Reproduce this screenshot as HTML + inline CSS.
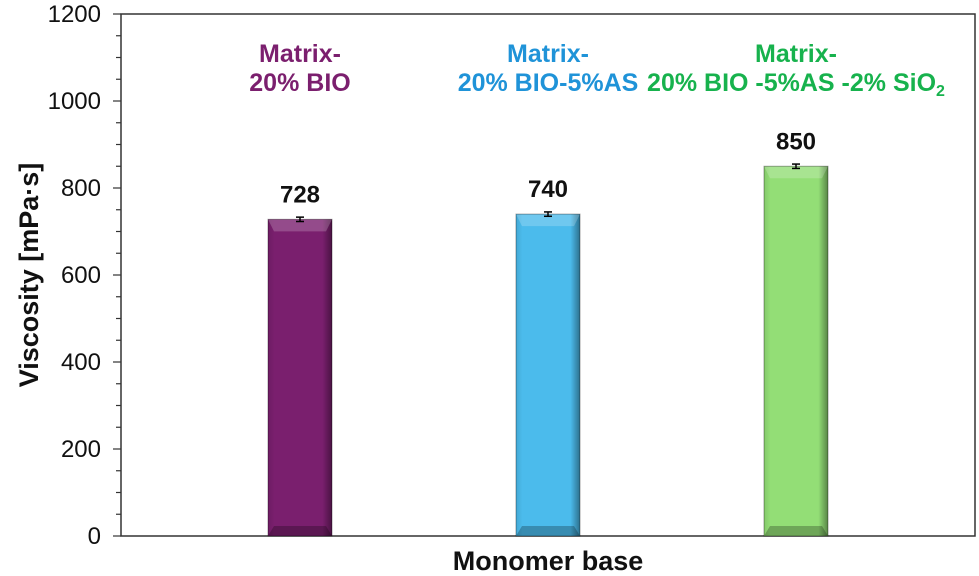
<!DOCTYPE html>
<html><head><meta charset="utf-8"><style>
body{margin:0;background:#fff;}
svg{display:block;font-family:"Liberation Sans",Arial,sans-serif;}
</style></head><body>
<svg id="c" width="979" height="576">
<defs>
<linearGradient id="shadeH" x1="0" x2="1" y1="0" y2="0">
<stop offset="0" stop-color="#000" stop-opacity="0.1"/><stop offset="0.1" stop-color="#000" stop-opacity="0"/>
<stop offset="0.85" stop-color="#000" stop-opacity="0"/><stop offset="1" stop-color="#000" stop-opacity="0.4"/>
</linearGradient>
</defs>
<g id="plot"></g>
</svg>
<script>
const categories = ["Matrix-20% BIO", "Matrix-20% BIO-5%AS", "Matrix-20% BIO-5%AS-2% SiO2"];
const values = [728, 740, 850];
const errors = [5, 5, 5];
const yTicks = [0, 200, 400, 600, 800, 1000, 1200];
const barColors = ["#7a1f6e", "#4bbbec", "#93de76"];
const textColors = ["#7b1f6e", "#1f93d8", "#17b24d"];

const NS = "http://www.w3.org/2000/svg";
const g = document.getElementById("plot");
const X0 = 121, X1 = 975, Y0 = 536, Y1 = 14;
const y = v => Y0 - (v / 1200) * (Y0 - Y1);
const x = i => 300 + i * 248;
const BW = 64;
function el(tag, attrs, parent) {
  const e = document.createElementNS(NS, tag);
  for (const k in attrs) e.setAttribute(k, attrs[k]);
  (parent || g).appendChild(e);
  return e;
}
const frame = el("rect", {x: X0, y: Y1, width: X1 - X0, height: Y0 - Y1, fill: "none", stroke: "#333", "stroke-width": 1.5});


for (let v = 0; v <= 1200; v += 50) {
  const t = el("line", {x1: X0 - (v % 200 === 0 ? 8 : 5), x2: X0, y1: y(v), y2: y(v), stroke: "#333", "stroke-width": 1.2});
  
  
}
yTicks.forEach(v => {
  const t = el("text", {x: 101, y: y(v) + 8, "text-anchor": "end", "font-size": 24, fill: "#111"});
  t.textContent = v;
  
  
});
values.forEach((v, i) => {
  const cx = x(i), top = y(v), h = Y0 - top, L = cx - BW / 2;
  const bg = el("g", {});
  
  
  el("rect", {x: L, y: top, width: BW, height: h, fill: barColors[i]}, bg);
  el("rect", {x: L, y: top, width: BW, height: h, fill: "url(#shadeH)"}, bg);
  el("polygon", {points: `${L},${top} ${L+BW},${top} ${L+BW-6},${top+12} ${L+6},${top+12}`, fill: "#fff", "fill-opacity": 0.2}, bg);
  el("polygon", {points: `${L},${Y0} ${L+BW},${Y0} ${L+BW-6},${Y0-10} ${L+6},${Y0-10}`, fill: "#000", "fill-opacity": 0.25}, bg);
  el("rect", {x: L, y: top, width: BW, height: h, fill: "none", stroke: "#000", "stroke-opacity": 0.35, "stroke-width": 1}, bg);
  const eb = el("g", {stroke: "#000", "stroke-width": 1.5});
  
  
  el("line", {x1: cx, x2: cx, y1: y(v + errors[i]), y2: y(v - errors[i])}, eb);
  el("line", {x1: cx - 4, x2: cx + 4, y1: y(v + errors[i]), y2: y(v + errors[i])}, eb);
  el("line", {x1: cx - 4, x2: cx + 4, y1: y(v - errors[i]), y2: y(v - errors[i])}, eb);
  const vl = el("text", {x: cx, y: top - 17, "text-anchor": "middle", "font-size": 24, "font-weight": "bold", fill: "#111"});
  vl.textContent = v;
  
  
  const cl = el("text", {"text-anchor": "middle", "font-size": 25, "font-weight": "bold", fill: textColors[i]});
  
  
  const t1 = el("tspan", {x: cx, y: 62}, cl); t1.textContent = "Matrix-";
  const rest = categories[i].replace("Matrix-", "");
  const t2 = el("tspan", {x: cx, y: 91}, cl);
  if (i === 2) {
    t2.textContent = "20% BIO -5%AS -2% SiO";
    const s = el("tspan", {"font-size": 16, dy: 5}, cl); s.textContent = "2";
  } else t2.textContent = rest;
});
const yt = el("text", {transform: "translate(38,275) rotate(-90)", "text-anchor": "middle", "font-size": 27, "font-weight": "bold", fill: "#111"});
yt.textContent = "Viscosity [mPa·s]";


const xt = el("text", {x: 548, y: 570, "text-anchor": "middle", "font-size": 27, "font-weight": "bold", fill: "#111"});
xt.textContent = "Monomer base";


</script>
</body></html>
